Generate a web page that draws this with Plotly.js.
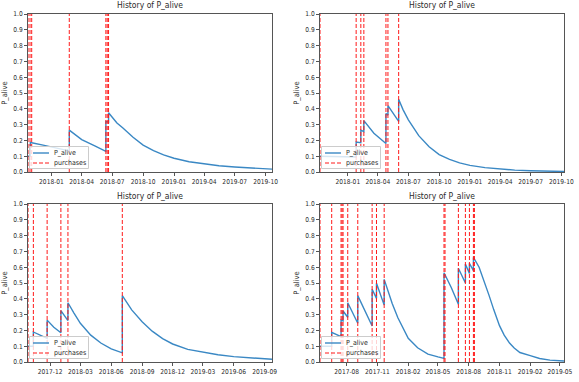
<!DOCTYPE html>
<html>
<head>
<meta charset="utf-8">
<script src="https://cdn.plot.ly/plotly-3.0.1.min.js"></script>
<style>
html,body{margin:0;padding:0;background:#fff;}
#chart{width:579px;height:382px;}
</style>
</head>
<body>
<div id="chart"></div>
<script>
// ---- Panel 1 (top-left) ----
var dates1 = ['2017-10-23','2017-10-30','2017-10-30','2017-11-03','2017-12-07','2018-01-15','2018-02-23','2018-02-23','2018-04-01','2018-05-10','2018-06-12','2018-06-12','2018-06-20','2018-06-20','2018-07-15','2018-08-01','2018-09-01','2018-10-01','2018-11-01','2018-12-01','2019-01-01','2019-02-15','2019-04-01','2019-05-15','2019-07-01','2019-08-15','2019-10-20'];
var palive1 = [0.10,0.10,0.19,0.185,0.17,0.15,0.133,0.265,0.205,0.165,0.13,0.32,0.315,0.375,0.31,0.28,0.22,0.17,0.135,0.108,0.087,0.065,0.05,0.04,0.032,0.025,0.018];
var purch1 = ['2017-10-23','2017-10-29','2017-11-03','2018-02-23','2018-06-12','2018-06-16','2018-06-20'];
var ticks1 = ['2018-01-01','2018-04-01','2018-07-01','2018-10-01','2019-01-01','2019-04-01','2019-07-01','2019-10-01'];
var labels1 = ['2018-01','2018-04','2018-07','2018-10','2019-01','2019-04','2019-07','2019-10'];

// ---- Panel 2 (top-right) ----
var dates2 = ['2017-10-10','2017-12-01','2018-01-26','2018-01-26','2018-02-09','2018-02-09','2018-02-18','2018-02-18','2018-03-20','2018-04-25','2018-04-25','2018-05-01','2018-05-01','2018-06-02','2018-06-02','2018-06-15','2018-07-01','2018-08-01','2018-09-01','2018-10-01','2018-11-01','2018-12-01','2019-01-01','2019-02-15','2019-04-01','2019-05-15','2019-07-01','2019-10-09'];
var palive2 = [0.10,0.098,0.095,0.19,0.185,0.265,0.255,0.325,0.245,0.18,0.37,0.36,0.42,0.32,0.46,0.395,0.33,0.23,0.16,0.11,0.08,0.058,0.042,0.028,0.019,0.012,0.008,0.003];
var purch2 = ['2017-10-10','2018-01-26','2018-02-09','2018-02-18','2018-04-25','2018-05-01','2018-06-02'];
var ticks2 = ['2018-01-01','2018-04-01','2018-07-01','2018-10-01','2019-01-01','2019-04-01','2019-07-01','2019-10-01'];
var labels2 = ['2018-01','2018-04','2018-07','2018-10','2019-01','2019-04','2019-07','2019-10'];

// ---- Panel 3 (bottom-left) ----
var dates3 = ['2017-09-26','2017-10-12','2017-10-12','2017-11-01','2017-11-22','2017-11-22','2017-12-12','2018-01-02','2018-01-02','2018-01-23','2018-01-23','2018-02-10','2018-03-01','2018-04-01','2018-05-01','2018-06-01','2018-07-04','2018-07-04','2018-08-01','2018-09-01','2018-10-01','2018-11-01','2018-12-01','2019-01-15','2019-03-01','2019-04-15','2019-06-01','2019-07-15','2019-09-23'];
var palive3 = [0.10,0.10,0.19,0.17,0.15,0.265,0.22,0.185,0.325,0.262,0.375,0.31,0.245,0.17,0.12,0.083,0.058,0.42,0.33,0.255,0.195,0.148,0.114,0.08,0.061,0.046,0.034,0.026,0.017];
var purch3 = ['2017-09-26','2017-10-12','2017-11-22','2018-01-02','2018-01-23','2018-07-04'];
var ticks3 = ['2017-12-01','2018-03-01','2018-06-01','2018-09-01','2018-12-01','2019-03-01','2019-06-01','2019-09-01'];
var labels3 = ['2017-12','2018-03','2018-06','2018-09','2018-12','2019-03','2019-06','2019-09'];

// ---- Panel 4 (bottom-right) ----
var dates4 = ['2017-05-13','2017-06-17','2017-06-17','2017-07-15','2017-07-15','2017-07-21','2017-07-21','2017-08-04','2017-08-04','2017-09-03','2017-09-03','2017-10-16','2017-10-16','2017-10-29','2017-10-29','2017-11-21','2017-11-21','2017-12-15','2018-01-01','2018-02-01','2018-03-01','2018-04-01','2018-05-01','2018-05-19','2018-05-19','2018-06-10','2018-07-01','2018-07-01','2018-07-22','2018-07-22','2018-08-03','2018-08-03','2018-08-15','2018-08-15','2018-09-01','2018-09-15','2018-10-01','2018-10-15','2018-11-01','2018-11-15','2018-12-01','2018-12-15','2019-01-01','2019-02-01','2019-03-01','2019-04-01','2019-05-13'];
var palive4 = [0.10,0.10,0.188,0.16,0.265,0.26,0.323,0.283,0.375,0.245,0.42,0.228,0.46,0.403,0.498,0.36,0.523,0.37,0.28,0.15,0.09,0.05,0.032,0.023,0.565,0.47,0.365,0.593,0.50,0.62,0.56,0.625,0.578,0.662,0.60,0.52,0.42,0.33,0.23,0.17,0.12,0.088,0.06,0.04,0.022,0.012,0.006];
var purch4 = ['2017-05-13','2017-06-17','2017-07-15','2017-07-18','2017-07-21','2017-08-04','2017-09-03','2017-10-16','2017-10-29','2017-11-21','2018-05-19','2018-05-22','2018-07-01','2018-07-22','2018-08-03','2018-08-15','2018-08-18'];
var ticks4 = ['2017-08-01','2017-11-01','2018-02-01','2018-05-01','2018-08-01','2018-11-01','2019-02-01','2019-05-01'];
var labels4 = ['2017-08','2017-11','2018-02','2018-05','2018-08','2018-11','2019-02','2019-05'];

// ---- shared y ticks and texts ----
var yTicks = [0,0.1,0.2,0.3,0.4,0.5,0.6,0.7,0.8,0.9,1.0];
var yLabels = ['0.0','0.1','0.2','0.3','0.4','0.5','0.6','0.7','0.8','0.9','1.0'];
var titleText = 'History of P_alive';
var yTitle = 'P_alive';
var seriesNames = ['P_alive','purchases'];

var panels = [
  {d:dates1, v:palive1, p:purch1, t:ticks1, l:labels1},
  {d:dates2, v:palive2, p:purch2, t:ticks2, l:labels2},
  {d:dates3, v:palive3, p:purch3, t:ticks3, l:labels3},
  {d:dates4, v:palive4, p:purch4, t:ticks4, l:labels4}
];

var W = 579, H = 382;
// plot boxes in pixels [x0, x1, yTop, yBottom]
var boxes = [[28,272,14,172],[320,564,14,172],[28,272,204,362],[320,564,204,362]];
var FONT = '"DejaVu Sans Condensed", "DejaVu Sans", sans-serif';
var TXT = '#2b2b2b';
var AX = '#555555';
var BLUE = '#3a88c4', RED = '#ff1a1a';
var TICK_SIZE = 6.6;
var DASH = '4px,2px';

function px(x){ return x / W; }
function py(y){ return (H - y) / H; }

var traces = [];
var layout = {
  width: W, height: H,
  margin: {l:0, r:0, t:0, b:0},
  paper_bgcolor: '#fff', plot_bgcolor: '#fff',
  font: {family: FONT, color: TXT, size: 7},
  annotations: [], shapes: [],
  showlegend: false
};

panels.forEach(function(pn, i){
  var k = i + 1;
  var sx = k === 1 ? '' : String(k);
  var b = boxes[i];
  traces.push({
    type: 'scatter', mode: 'lines', x: pn.d, y: pn.v,
    xaxis: 'x' + sx, yaxis: 'y' + sx, name: seriesNames[0],
    line: {color: BLUE, width: 1.4}
  });
  var vx = [], vy = [];
  pn.p.forEach(function(d){ vx.push(d, d, null); vy.push(yTicks[0], yTicks[yTicks.length-1], null); });
  traces.push({
    type: 'scatter', mode: 'lines', x: vx, y: vy,
    xaxis: 'x' + sx, yaxis: 'y' + sx, name: seriesNames[1],
    line: {color: RED, width: 1, dash: DASH}
  });
  layout['xaxis' + sx] = {
    domain: [px(b[0]), px(b[1])], anchor: 'y' + sx, type: 'date',
    range: [pn.d[0], pn.d[pn.d.length-1]],
    tickmode: 'array', tickvals: pn.t, ticktext: pn.l, tickangle: 0,
    ticks: 'outside', ticklen: 3, tickwidth: 1, tickcolor: AX,
    showline: true, mirror: true, linecolor: AX, linewidth: 1,
    showgrid: false, zeroline: false,
    tickfont: {family: FONT, size: TICK_SIZE, color: TXT}
  };
  layout['yaxis' + sx] = {
    domain: [py(b[3]), py(b[2])], anchor: 'x' + sx,
    range: [0, 1], tickmode: 'array', tickvals: yTicks, ticktext: yLabels,
    ticks: 'outside', ticklen: 3, tickwidth: 1, tickcolor: AX,
    showline: true, mirror: true, linecolor: AX, linewidth: 1,
    showgrid: false, zeroline: false,
    tickfont: {family: FONT, size: TICK_SIZE, color: TXT},
    title: {text: yTitle, font: {family: FONT, size: 7.5, color: TXT}, standoff: 4}
  };
  layout.annotations.push({
    xref: 'paper', yref: 'paper', x: px((b[0]+b[1])/2), y: py(b[2]-1.5),
    xanchor: 'center', yanchor: 'bottom', showarrow: false,
    text: titleText, font: {family: FONT, size: 8.5, color: TXT}
  });
  // legend box (lower left), drawn as layout shapes + texts
  var lx0 = b[0]+1.5, lx1 = b[0]+60.5, ly0 = b[3]-25.5, ly1 = b[3]-3.5;
  layout.shapes.push({type:'rect', xref:'paper', yref:'paper', x0:px(lx0), x1:px(lx1), y0:py(ly1), y1:py(ly0),
    fillcolor:'rgba(255,255,255,0.8)', line:{color:'#cccccc', width:1}, layer:'above'});
  var rows = [b[3]-19, b[3]-9];
  var styles = [{color:BLUE, width:1.4}, {color:RED, width:1, dash:DASH}];
  rows.forEach(function(ry, j){
    layout.shapes.push({type:'line', xref:'paper', yref:'paper', x0:px(b[0]+5), x1:px(b[0]+21), y0:py(ry), y1:py(ry),
      line: styles[j], layer:'above'});
    layout.annotations.push({xref:'paper', yref:'paper', x:px(b[0]+24), y:py(ry), xanchor:'left', yanchor:'middle',
      showarrow:false, text: seriesNames[j], font:{family: FONT, size: 7, color: TXT}});
  });
});

Plotly.newPlot('chart', traces, layout, {staticPlot: true, displayModeBar: false});
</script>
</body>
</html>
